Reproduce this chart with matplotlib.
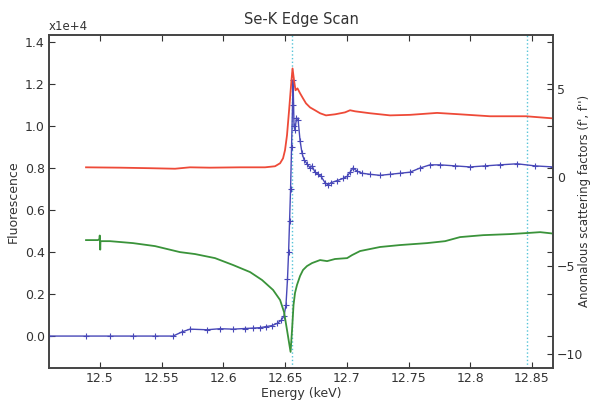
import matplotlib
matplotlib.use("Agg")
import matplotlib.pyplot as plt
from matplotlib.ticker import FixedLocator, FormatStrFormatter

# ---------------- data ----------------
# Fluorescence scan (units of 1e4 counts), left axis
fluo_energy = [12.4587, 12.4887, 12.5081, 12.5267, 12.5446, 12.5592, 12.5665, 12.5729,
               12.5867, 12.5972, 12.6078, 12.6175, 12.6240, 12.6297, 12.6345, 12.6394,
               12.6434, 12.6467, 12.6491, 12.6507, 12.6519, 12.6528, 12.6536, 12.6544,
               12.6552, 12.6560, 12.6564, 12.6572, 12.6580, 12.6592, 12.6605, 12.6621,
               12.6637, 12.6653, 12.6677, 12.6702, 12.6718, 12.6742, 12.6767, 12.6791,
               12.6823, 12.6848, 12.6872, 12.6921, 12.6969, 12.7002, 12.7026, 12.7050,
               12.7083, 12.7123, 12.7188, 12.7269, 12.7350, 12.7431, 12.7512, 12.7593,
               12.7674, 12.7755, 12.7877, 12.7998, 12.8120, 12.8241, 12.8379, 12.8525,
               12.8671]
fluo_counts = [0.000, 0.000, 0.000, 0.000, 0.000, 0.000, 0.020, 0.033,
               0.030, 0.035, 0.033, 0.036, 0.038, 0.040, 0.045, 0.050,
               0.060, 0.075, 0.095, 0.150, 0.270, 0.400, 0.550, 0.700,
               0.900, 1.100, 1.220, 1.000, 0.980, 1.040, 1.030, 0.930,
               0.870, 0.840, 0.820, 0.800, 0.810, 0.780, 0.770, 0.760,
               0.730, 0.720, 0.730, 0.740, 0.750, 0.760, 0.780, 0.800,
               0.785, 0.775, 0.770, 0.765, 0.770, 0.775, 0.780, 0.800,
               0.815, 0.815, 0.810, 0.805, 0.810, 0.815, 0.820, 0.810,
               0.805]

# f'' (right axis)
fpp_energy = [12.4887, 12.5162, 12.5405, 12.5608, 12.5729, 12.5891, 12.6135, 12.6337,
              12.6418, 12.6459, 12.6483, 12.6499, 12.6515, 12.6532, 12.6548, 12.6560,
              12.6572, 12.6584, 12.6600, 12.6621, 12.6645, 12.6669, 12.6702, 12.6742,
              12.6783, 12.6831, 12.6904, 12.6985, 12.7026, 12.7067, 12.7188, 12.7350,
              12.7512, 12.7731, 12.7917, 12.8160, 12.8452, 12.8671]
fpp_values = [0.56, 0.54, 0.51, 0.48, 0.56, 0.54, 0.56, 0.56,
              0.62, 0.79, 1.07, 1.53, 2.37, 3.79, 5.20, 6.16,
              5.48, 4.92, 5.03, 4.75, 4.46, 4.18, 3.95, 3.79,
              3.62, 3.50, 3.56, 3.67, 3.79, 3.73, 3.62, 3.50,
              3.53, 3.64, 3.56, 3.45, 3.45, 3.33]

# f' (right axis)
fp_energy = [12.4887, 12.4984, 12.4996, 12.4998, 12.5002, 12.5004, 12.5081, 12.5267,
             12.5446, 12.5648, 12.5770, 12.5932, 12.6078, 12.6216, 12.6313, 12.6402,
             12.6459, 12.6491, 12.6515, 12.6532, 12.6544, 12.6556, 12.6568, 12.6580,
             12.6596, 12.6621, 12.6645, 12.6677, 12.6718, 12.6783, 12.6840, 12.6904,
             12.7002, 12.7042, 12.7107, 12.7269, 12.7431, 12.7650, 12.7796, 12.7917,
             12.8104, 12.8322, 12.8460, 12.8566, 12.8671]
fp_values = [-3.56, -3.56, -3.50, -3.30, -4.10, -3.62, -3.62, -3.73,
             -3.90, -4.24, -4.35, -4.58, -4.97, -5.37, -5.82, -6.38,
             -6.95, -7.63, -8.64, -9.38, -9.89, -8.64, -7.23, -6.55,
             -6.10, -5.59, -5.25, -5.03, -4.86, -4.69, -4.75, -4.63,
             -4.58, -4.41, -4.18, -3.95, -3.84, -3.73, -3.62, -3.39,
             -3.28, -3.22, -3.16, -3.11, -3.19]

# chosen energies (vertical markers)
marker_energies = [12.6554, 12.8460]

x_ticks = [12.5, 12.55, 12.6, 12.65, 12.7, 12.75, 12.8, 12.85]
x_ticklabels = ["12.5", "12.55", "12.6", "12.65", "12.7", "12.75", "12.8", "12.85"]
left_ticks = [0.0, 0.2, 0.4, 0.6, 0.8, 1.0, 1.2, 1.4]
right_ticks = [-10, -5, 0, 5]

# ---------------- plot ----------------
txt = "#333333"
plt.rcParams["font.family"] = ["DejaVu Sans"]
fig = plt.figure(figsize=(5.92, 4.0), dpi=100)
ax = fig.add_axes([49/592, 1-368/400, (553-49)/592, (368-35)/400])
ax2 = ax.twinx()

ax.plot(fluo_energy, fluo_counts, color="#4848b8", lw=1.0, marker="+",
        markersize=4, markeredgewidth=0.8, zorder=3)
ax2.plot(fpp_energy, fpp_values, color="#ee4a38", lw=1.3)
ax2.plot(fp_energy, fp_values, color="#3a933a", lw=1.3)
for e in marker_energies:
    ax.axvline(e, color="#55c4d8", lw=1.0, ls=":")

ax.set_xlim(12.4587, 12.867)
ax.set_ylim(-0.152, 1.433)
ax2.set_ylim(-10.8, 8.05)

ax.xaxis.set_major_locator(FixedLocator(x_ticks))
ax.set_xticklabels(x_ticklabels)
ax.yaxis.set_major_locator(FixedLocator(left_ticks))
ax.yaxis.set_major_formatter(FormatStrFormatter("%.1f"))
ax2.yaxis.set_major_locator(FixedLocator(right_ticks))

ax.tick_params(axis="both", direction="in", length=4, width=0.8, labelsize=9,
               colors=txt, top=True, right=True, pad=3)
ax2.tick_params(axis="y", direction="in", length=4, width=0.8, labelsize=9,
                colors=txt, pad=3)

for a in (ax, ax2):
    for s in a.spines.values():
        s.set_color("#444444")
        s.set_linewidth(1.2)

ax.set_title("Se-K Edge Scan", fontsize=10.5, color=txt, pad=8)
ax.set_xlabel("Energy (keV)", fontsize=9, color=txt, labelpad=1)
ax.set_ylabel("Fluorescence", fontsize=9, color=txt, labelpad=4)
fig.text(0.999, 1 - 201/400, "Anomalous scattering factors (f', f'')", rotation=90,
         ha="right", va="center", fontsize=8.5, color=txt)
ax.text(0.0, 1.005, "x1e+4", transform=ax.transAxes, ha="left", va="bottom",
        fontsize=8.5, color=txt)

fig.savefig("out.png", dpi=100)
